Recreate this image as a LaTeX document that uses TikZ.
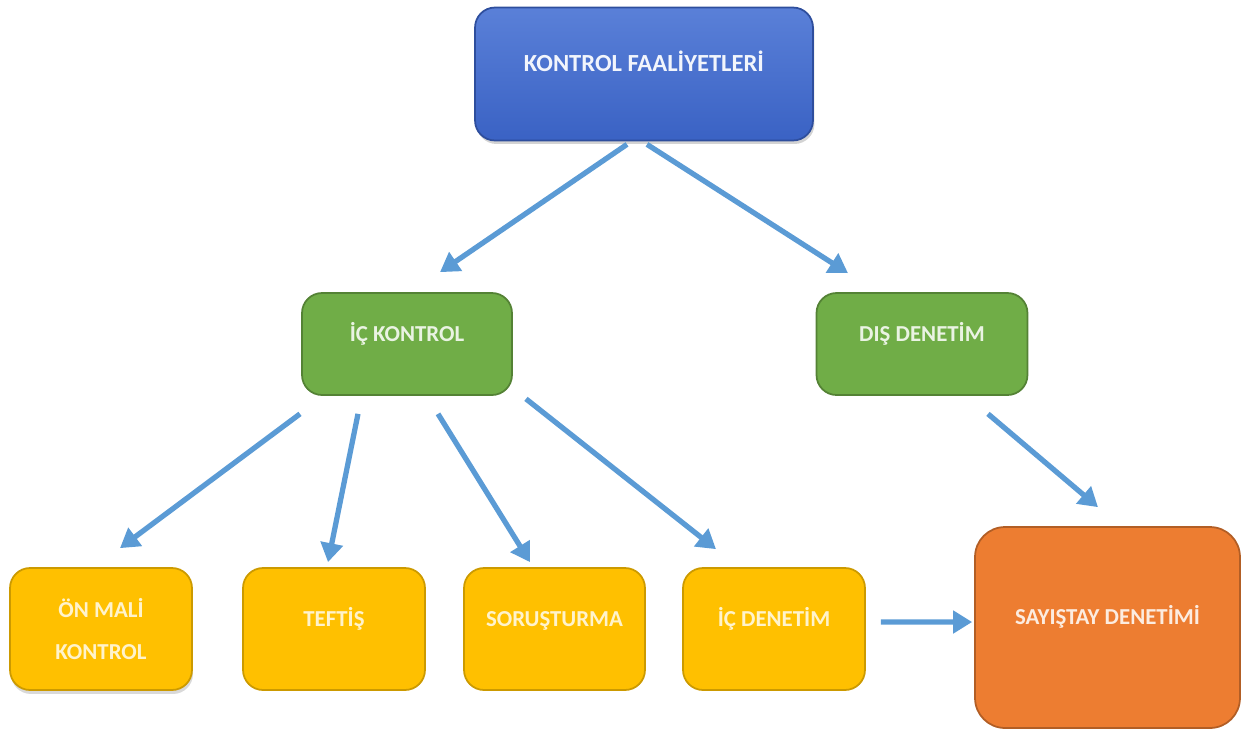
\documentclass[tikz,border=0pt]{standalone}
\usepackage{fontspec}
\setmainfont{Carlito}
\usepackage{xcolor}
\usetikzlibrary{arrows.meta,shadows}
\definecolor{okmavi}{HTML}{5B9BD5}
\definecolor{mavi1}{HTML}{5A80D8}
\definecolor{mavi2}{HTML}{3A62C4}
\definecolor{yesil}{HTML}{70AD47}
\definecolor{sari}{HTML}{FFC000}
\definecolor{turuncu}{HTML}{ED7D31}

\begin{document}
\begin{tikzpicture}[x=0.02cm,y=-0.02cm,
		kutu/.style={rounded corners=0.4cm,line width=1pt,align=center,
			font=\bfseries\fontsize{13}{24}\selectfont},
		ust/.style={text height=9pt,text depth=12pt},
		mavikutu/.style={kutu,top color=mavi1,bottom color=mavi2,draw=mavi2!80!black,
			text=white!92!mavi1,font=\bfseries\fontsize{14}{16}\selectfont,
			drop shadow={shadow xshift=0.03cm,shadow yshift=-0.07cm,opacity=0.35}},
		yesilkutu/.style={kutu,fill=yesil,draw=yesil!75!black,text=yesil!15!white},
		sarikutu/.style={kutu,fill=sari,draw=sari!80!black,text=sari!20!white},
		ok/.style={color=okmavi,line width=3pt,-{Triangle[length=0.38cm,width=0.44cm]}}]
	\useasboundingbox (0,0) rectangle (1242,731);
	%
	\node[mavikutu,ust,minimum width=6.76cm,minimum height=2.66cm] (kf) at (644,74) {KONTROL FAALİYETLERİ};
	\node[yesilkutu,ust,minimum width=4.2cm,minimum height=2.04cm] (ick) at (407,344) {İÇ KONTROL};
	\node[yesilkutu,ust,minimum width=4.22cm,minimum height=2.04cm] (dis) at (922,344) {DIŞ DENETİM};
	%
	\node[sarikutu,minimum width=3.64cm,minimum height=2.44cm,
		drop shadow={shadow xshift=0.02cm,shadow yshift=-0.08cm,opacity=0.3}] (onm) at (101,629) {ÖN MALİ\\KONTROL};
	\node[sarikutu,ust,minimum width=3.64cm,minimum height=2.44cm] (tef) at (334,629) {TEFTİŞ};
	\node[sarikutu,ust,minimum width=3.62cm,minimum height=2.44cm] (sor) at (554.5,629) {SORUŞTURMA};
	\node[sarikutu,ust,minimum width=3.64cm,minimum height=2.44cm] (icd) at (774,629) {İÇ DENETİM};
	\node[kutu,ust,rounded corners=0.6cm,fill=turuncu,draw=turuncu!75!black,text=turuncu!15!white,
		minimum width=5.3cm,minimum height=4.02cm] (say) at (1107.5,627.5) {SAYIŞTAY DENETİMİ};
	%
	\path[ok]
		([xshift=-0.34cm,yshift=-0.06cm]kf.south) edge ([xshift=0.66cm,yshift=0.4cm]ick.north)
		([xshift=0.06cm,yshift=-0.06cm]kf.south) edge ([xshift=-1.48cm,yshift=0.38cm]dis.north);
	\path[ok]
		([xshift=-2.14cm,yshift=-0.36cm]ick.south) edge ([xshift=0.38cm,yshift=0.38cm]onm.north)
		([xshift=-0.98cm,yshift=-0.36cm]ick.south) edge ([xshift=-0.12cm,yshift=0.1cm]tef.north)
		([xshift=0.62cm,yshift=-0.36cm]ick.south) edge ([xshift=-0.49cm,yshift=0.1cm]sor.north)
		([xshift=2.38cm,yshift=-0.06cm]ick.south) edge ([xshift=-1.16cm,yshift=0.36cm]icd.north);
	\path[ok]
		([xshift=1.32cm,yshift=-0.36cm]dis.south) edge ([xshift=-0.19cm,yshift=0.38cm]say.north)
		([xshift=0.3cm,yshift=0.14cm]icd.east) edge ([xshift=-0.04cm,yshift=0.11cm]say.west);
\end{tikzpicture}
\end{document}
